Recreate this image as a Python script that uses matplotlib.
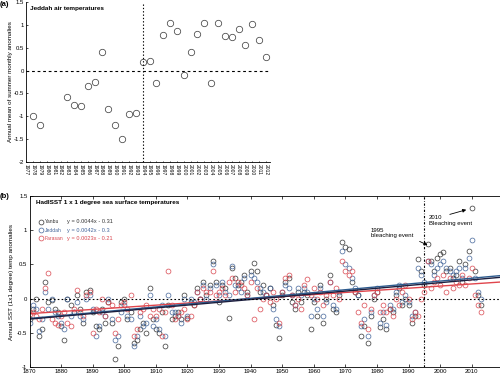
import matplotlib
matplotlib.use("Agg")
import matplotlib.pyplot as plt
import numpy as np

plt.rcParams['font.family'] = ['Liberation Sans', 'DejaVu Sans']

# ---------------- Panel (a) data ----------------
jeddah_years = [1978, 1979, 1983, 1984, 1985, 1986, 1987, 1988, 1989, 1990, 1991,
                1992, 1993, 1994, 1995, 1996, 1997, 1998, 1999, 2000, 2001, 2002,
                2003, 2004, 2005, 2006, 2007, 2008, 2009, 2010, 2011, 2012]
jeddah_anom = [-1.00, -1.20, -0.57, -0.75, -0.78, -0.33, -0.25, 0.40, -0.83, -1.18, -1.50,
               -0.95, -0.93, 0.18, 0.22, -0.27, 0.77, 1.05, 0.86, -0.09, 0.40, 0.80,
               1.05, -0.27, 1.04, 0.76, 0.73, 0.92, 0.57, 1.02, 0.67, 0.30]
a_tick_years = list(range(1977, 2013))
a_yticks = [-2, -1.5, -1, -0.5, 0, 0.5, 1, 1.5]
a_ytick_labels = ['-2', '-1.5', '-1', '-0.5', '0', '0.5', '1', '1.5']

# ---------------- Panel (b) data ----------------
sst_years = list(range(1870, 2014))
yanbu = [-0.30, -0.15, 0.00, -0.55, -0.45, 0.25, -0.05, -0.02, -0.15, -0.20,
         -0.40, -0.60, 0.00, -0.10, -0.20, 0.05, -0.15, -0.35, 0.10, 0.12,
         -0.20, -0.40, -0.45, -0.15, -0.35, -0.05, -0.35, -0.88, -0.70, -0.05,
         0.00, -0.30, -0.20, -0.65, -0.60, -0.45, -0.35, -0.50, 0.15, -0.30,
         -0.45, -0.50, -0.20, -0.70, -0.10, -0.30, -0.25, -0.20, -0.30, 0.05,
         -0.28, -0.05, -0.10, 0.15, 0.00, 0.25, 0.05, 0.20, 0.55, 0.25,
         -0.05, 0.20, 0.15, -0.28, 0.45, 0.30, 0.20, 0.25, 0.35, 0.10,
         0.40, 0.52, 0.40, 0.10, 0.20, 0.05, 0.15, -0.10, -0.38, -0.58,
         0.05, 0.25, 0.30, -0.05, -0.15, 0.10, -0.05, 0.10, 0.05, -0.45,
         -0.05, -0.25, 0.20, -0.35, 0.00, 0.35, -0.15, -0.20, 0.05, 0.83,
         0.75, 0.72, 0.25, 0.10, 0.05, -0.55, -0.40, -0.65, -0.25, 0.00,
         0.10, -0.42, -0.30, -0.45, -0.15, -0.20, 0.05, 0.15, -0.10, 0.00,
         -0.10, -0.35, -0.25, 0.58, 0.40, 0.20, 0.80, 0.55, 0.40, 0.60,
         0.65, 0.68, 0.40, 0.45, 0.30, 0.35, 0.55, 0.25, 0.50, 0.70,
         1.33, 0.40, 0.05, -0.10]
jeddah_sst = [-0.35, -0.10, -0.15, -0.48, -0.30, 0.10, -0.15, 0.00, -0.20, -0.25,
              -0.35, -0.45, 0.00, -0.25, -0.20, -0.05, -0.25, -0.30, 0.00, 0.05,
              -0.15, -0.55, -0.40, -0.20, -0.25, 0.00, -0.30, -0.60, -0.55, -0.20,
              -0.10, -0.25, -0.30, -0.70, -0.55, -0.25, -0.40, -0.35, 0.05, -0.40,
              -0.30, -0.45, -0.10, -0.55, 0.05, -0.20, -0.20, -0.25, -0.35, 0.00,
              -0.25, 0.00, -0.05, 0.10, 0.00, 0.20, 0.00, 0.15, 0.50, 0.20,
              0.05, 0.25, 0.10, 0.05, 0.48, 0.20, 0.15, 0.10, 0.30, 0.05,
              0.35, 0.30, 0.25, 0.15, 0.10, 0.05, 0.15, -0.15, -0.30, -0.40,
              0.10, 0.20, 0.15, 0.05, -0.10, 0.15, 0.05, 0.15, 0.10, -0.25,
              0.00, -0.15, 0.15, -0.25, -0.05, 0.25, -0.10, -0.15, 0.10, 0.70,
              0.50, 0.45, 0.30, 0.15, 0.05, -0.40, -0.30, -0.55, -0.20, 0.05,
              0.15, -0.35, -0.20, -0.38, -0.10, -0.15, 0.10, 0.20, -0.05, 0.05,
              -0.05, -0.25, -0.20, 0.45, 0.35, 0.25, 0.55, 0.50, 0.35, 0.45,
              0.50, 0.55, 0.45, 0.40, 0.35, 0.40, 0.45, 0.30, 0.45, 0.60,
              0.85, 0.30, 0.10, 0.00]
farasan = [-0.22, -0.20, -0.25, -0.30, -0.15, 0.15, 0.37, -0.30, -0.35, -0.38,
           -0.25, -0.20, -0.35, -0.40, -0.15, 0.12, -0.20, -0.25, 0.05, 0.10,
           -0.50, -0.15, -0.20, 0.00, -0.25, -0.05, -0.10, -0.50, -0.30, -0.10,
           -0.05, -0.15, 0.05, -0.55, -0.45, -0.20, -0.15, -0.10, -0.25, -0.15,
           -0.25, -0.15, -0.55, -0.20, 0.41, -0.10, -0.30, -0.25, -0.20, -0.15,
           -0.30, -0.25, -0.10, 0.10, 0.00, 0.15, 0.10, 0.10, 0.40, 0.05,
           0.10, 0.15, 0.05, 0.25, 0.30, 0.10, 0.25, 0.20, 0.15, 0.05,
           0.25, -0.30, 0.15, -0.15, 0.00, 0.05, -0.05, 0.10, 0.00, -0.35,
           0.10, 0.30, 0.35, 0.05, -0.10, 0.00, -0.15, 0.20, 0.28, 0.05,
           0.15, 0.00, 0.10, -0.10, 0.05, 0.25, 0.05, 0.15, 0.00, 0.55,
           0.40, 0.35, 0.40, 0.10, -0.20, -0.35, -0.10, -0.45, -0.15, 0.05,
           0.10, -0.20, -0.10, -0.20, -0.15, -0.25, 0.00, -0.10, 0.10, 0.20,
           0.00, -0.30, -0.20, -0.25, 0.00, 0.10, 0.55, 0.15, 0.25, 0.30,
           0.20, 0.35, 0.10, 0.30, 0.15, 0.25, 0.20, 0.35, 0.20, 0.30,
           0.45, 0.05, -0.10, -0.20]
station_names = ['Yanbu', 'Jeddah', 'Farasan']
# trend lines as drawn in the picture (value at 1870 and slope per year)
trend_slopes = [0.0041, 0.0042, 0.0031]
trend_intercepts = [-0.30, -0.29, -0.22]
trend_labels = ['y = 0.0044x - 0.31', 'y = 0.0042x - 0.3', 'y = 0.0023x - 0.21']
b_xticks = list(range(1870, 2011, 10))
b_yticks = [-1, -0.5, 0, 0.5, 1, 1.5]
b_ytick_labels = ['-1', '-0.5', '0', '0.5', '1', '1.5']

# ---------------- Figure ----------------
W, H = 500, 376
fig = plt.figure(figsize=(W / 100, H / 100), dpi=100)

tick_fs = 4.3
# Panel (a)
axa = fig.add_axes([26.3 / W, 1 - 162 / H, (270 - 26.3) / W, (162 - 2) / H])
axa.plot(jeddah_years, jeddah_anom, linestyle='none', marker='o', markersize=4.6,
         markerfacecolor='none', markeredgecolor='#444444', markeredgewidth=0.55)
axa.set_xlim(1977, 2012.6)
axa.set_ylim(-2, 1.5)
axa.axhline(0, color='black', lw=0.8, linestyle=(0, (2.5, 2.5)))
axa.axvline(1994, color='black', lw=0.8, linestyle=(0, (1.2, 1.8)))
axa.spines['top'].set_visible(False)
axa.spines['right'].set_visible(False)
for s in axa.spines.values():
    s.set_linewidth(0.6)
axa.set_yticks(a_yticks)
axa.set_yticklabels(a_ytick_labels, fontsize=tick_fs)
axa.set_xticks(a_tick_years)
axa.set_xticklabels([str(y) for y in a_tick_years], rotation=270, fontsize=3.6)
axa.tick_params(axis='both', direction='in', length=1.5, width=0.5, pad=1.5)
axa.tick_params(axis='x', length=0.8, pad=1.5)
axa.set_ylabel('Annual mean of summer monthly anomalies', fontsize=4.5, labelpad=1)
axa.text(0.015, 0.975, 'Jeddah air temperatures', transform=axa.transAxes,
         fontsize=4.6, fontweight='bold', va='top', ha='left')
fig.text(0.0, 1 - 5 / H, '(a)', fontsize=5.5, fontweight='bold', va='center', ha='left')

# Panel (b)
x0_px = 29.5
x1_px = x0_px + 150 * 3.159
axb = fig.add_axes([x0_px / W, 1 - 367 / H, (x1_px - x0_px) / W, (367 - 196) / H])
series = [yanbu, jeddah_sst, farasan]
colors = ['#333333', '#44669a', '#d9474f']
line_colors = ['#1c1f3f', '#2d5b8e', '#e0454c']
for vals, c in zip(series, colors):
    axb.plot(sst_years, vals, linestyle='none', marker='o', markersize=3.5,
             markerfacecolor='none', markeredgecolor=c, markeredgewidth=0.5)
xl = np.array([1870, 2020])
for k in [2, 1, 0]:
    axb.plot(xl, trend_slopes[k] * (xl - 1870) + trend_intercepts[k],
             color=line_colors[k], lw=1.0)
axb.set_xlim(1870, 2020)
axb.set_ylim(-1, 1.5)
axb.axhline(0, color='black', lw=0.8, linestyle=(0, (1.5, 2.0)))
axb.axvline(1995, color='black', lw=0.8, linestyle=(0, (2.0, 1.5, 0.6, 1.5)))
for s in axb.spines.values():
    s.set_linewidth(0.6)
axb.set_xticks(b_xticks)
axb.set_xticklabels([str(y) for y in b_xticks], fontsize=tick_fs)
axb.set_yticks(b_yticks)
axb.set_yticklabels(b_ytick_labels, fontsize=tick_fs)
axb.tick_params(axis='both', direction='in', length=2, width=0.5, pad=1.5,
                top=True, right=True)
axb.set_ylabel('Annual SST (1x1 degree) temp anomalies', fontsize=4.5, labelpad=2)
fig.text(0.0, 1 - 197 / H, '(b)', fontsize=5.5, fontweight='bold', va='center', ha='left')

axb.text(1872, 1.4, 'HadISST 1 x 1 degree sea surface temperatures',
         fontsize=4.6, fontweight='bold', va='center', ha='left')
leg_y = [1.12, 1.0, 0.88]
for k in range(3):
    axb.plot([1873.5], [leg_y[k]], linestyle='none', marker='o', markersize=3.5,
             markerfacecolor='none', markeredgecolor=colors[k], markeredgewidth=0.5)
    axb.text(1874.8, leg_y[k], station_names[k], fontsize=3.6, color=colors[k],
             va='center', ha='left')
    axb.text(1881.8, leg_y[k], trend_labels[k], fontsize=4.1, color=colors[k],
             va='center', ha='left')

axb.text(1978.1, 0.955, '1995\nbleaching event', fontsize=4.3, va='center', ha='left',
         linespacing=1.1)
axb.annotate('', xy=(1996.8, 0.765), xytext=(1992.7, 0.853),
             arrowprops=dict(arrowstyle='-|>', color='black', lw=0.6,
                             mutation_scale=5))
axb.text(1996.4, 1.14, '2010\nBleaching event', fontsize=4.3, va='center', ha='left',
         linespacing=1.1)
axb.annotate('', xy=(2009.1, 1.31), xytext=(2002.2, 1.22),
             arrowprops=dict(arrowstyle='-|>', color='black', lw=0.6,
                             mutation_scale=5))

fig.savefig('out.png', dpi=100)
